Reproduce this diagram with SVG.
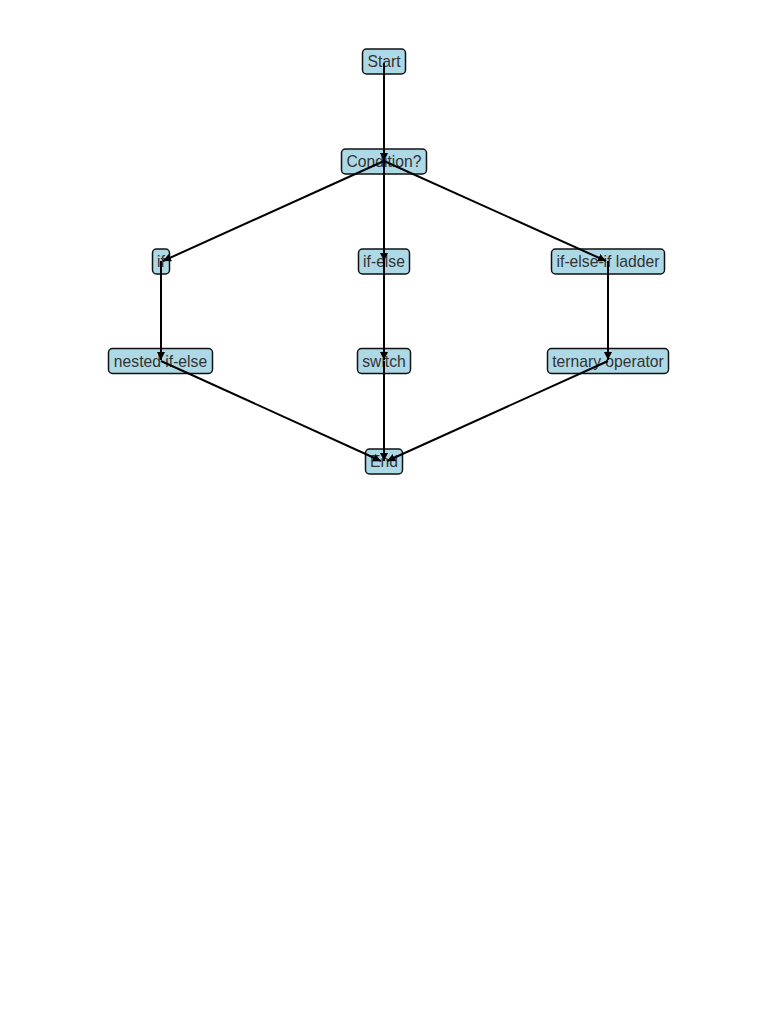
<svg xmlns="http://www.w3.org/2000/svg" width="768" height="1024" viewBox="0 0 768 1024">
<style>
.n rect{fill:#add8e6;stroke:#111;stroke-width:1.5}
.n text{font-family:"Liberation Sans",Arial,sans-serif;font-size:15.7px;fill:#333;text-anchor:middle;dominant-baseline:central}
.e line{stroke:#000;stroke-width:2;marker-end:url(#a)}
</style>
<defs>
<marker id="a" viewBox="0 0 10 10" refX="10" refY="5" markerWidth="4" markerHeight="4" orient="auto" markerUnits="strokeWidth">
<path d="M0,0 L10,5 L0,10 Z" fill="#000"/>
</marker>
</defs>
<rect width="768" height="1024" fill="#fff"/>
<g class="n" id="start"><rect x="362.5" y="49" width="43" height="25" rx="4"/><text x="384" y="61.5">Start</text></g>
<g class="n" id="condition"><rect x="341.5" y="149" width="85" height="25" rx="4"/><text x="384" y="161.5">Condition?</text></g>
<g class="n" id="if"><rect x="152.5" y="249" width="17" height="25" rx="4"/><text x="161" y="261.5">if</text></g>
<g class="n" id="ifelse"><rect x="358.5" y="249" width="51" height="25" rx="4"/><text x="384" y="261.5">if-else</text></g>
<g class="n" id="ladder"><rect x="551.5" y="249" width="113" height="25" rx="4"/><text x="608" y="261.5">if-else-if ladder</text></g>
<g class="n" id="nested"><rect x="108.5" y="348.5" width="104" height="25" rx="4"/><text x="160.5" y="361">nested if-else</text></g>
<g class="n" id="switch"><rect x="357.5" y="348.5" width="53" height="25" rx="4"/><text x="384" y="361">switch</text></g>
<g class="n" id="ternary"><rect x="547.5" y="348.5" width="121" height="25" rx="4"/><text x="608" y="361">ternary operator</text></g>
<g class="n" id="end"><rect x="365.5" y="449" width="37" height="25" rx="4"/><text x="384" y="461.5">End</text></g>
<g class="e" id="connectors">
<line x1="384" y1="63" x2="384" y2="161"/>
<line x1="384" y1="161" x2="163" y2="261"/>
<line x1="384" y1="161" x2="384" y2="261"/>
<line x1="384" y1="161" x2="606" y2="261"/>
<line x1="161" y1="261" x2="161" y2="360"/>
<line x1="384" y1="261" x2="384" y2="360"/>
<line x1="608" y1="261" x2="608" y2="360"/>
<line x1="161" y1="361" x2="381" y2="461"/>
<line x1="384" y1="361" x2="384" y2="461"/>
<line x1="608" y1="361" x2="387" y2="461"/>
</g>
</svg>
